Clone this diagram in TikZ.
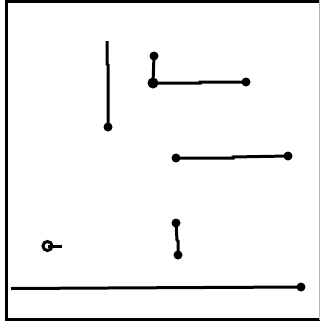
\documentclass[tikz,border=0pt]{standalone}
\begin{document}
\begin{tikzpicture}[x=1pt,y=-1pt,
  dot/.style={circle,fill=black,inner sep=0pt,minimum size=9pt},
  bigdot/.style={circle,fill=black,inner sep=0pt,minimum size=11pt},
  seg/.style={line width=3pt,black},
  ring/.style={circle,draw=black,line width=3pt,inner sep=0pt,minimum size=9pt}]
\useasboundingbox (0,0) rectangle (320,324);
\fill[white] (0,0) rectangle (320,324);
% frame
\draw[line width=3.5pt] (6.5,0) -- (6.5,321);
\draw[line width=3.5pt] (5,1.5) -- (320,1.5);
\draw[line width=3.5pt] (5,319.5) -- (320,319.5);
\draw[line width=1pt,gray!60] (319,0) -- (319,320);
% vertical line
\coordinate (v0) at (107,41);
\coordinate (v1) at (107,64);
\coordinate (v2) at (108,65);
\node[dot] (v3) at (108,127) {};
\draw[seg] (v0) -- (v1) -- (v2) -- (v3.center);
% L shape
\node[dot] (l0) at (154,56) {};
\node[bigdot] (l1) at (153,83) {};
\coordinate (l2) at (200,83);
\coordinate (l3) at (200,82);
\node[dot] (l4) at (246,82) {};
\draw[seg] (l0.center) -- (l1.center) -- (l2) -- (l3) -- (l4.center);
% middle line
\node[dot] (m0) at (176,158) {};
\coordinate (m1) at (233,158);
\coordinate (m2) at (233,157);
\node[dot] (m3) at (288,156) {};
\draw[seg] (m0.center) -- (m1) -- (m2) -- (m3.center);
% short
\node[dot] (s0) at (176,223) {};
\coordinate (s1) at (177,240);
\coordinate (s2) at (178,241);
\node[dot] (s3) at (178,255) {};
\draw[seg] (s0.center) -- (s1) -- (s2) -- (s3.center);
% ring
\node[ring] (r0) at (47.5,246) {};
\coordinate (r1) at (62,246);
\draw[seg] (r0.center) -- (r1);
% bottom long line
\coordinate (b0) at (11,288.5);
\node[dot] (b1) at (301,287) {};
\draw[seg] (b0) -- (b1.center);
\end{tikzpicture}
\end{document}
